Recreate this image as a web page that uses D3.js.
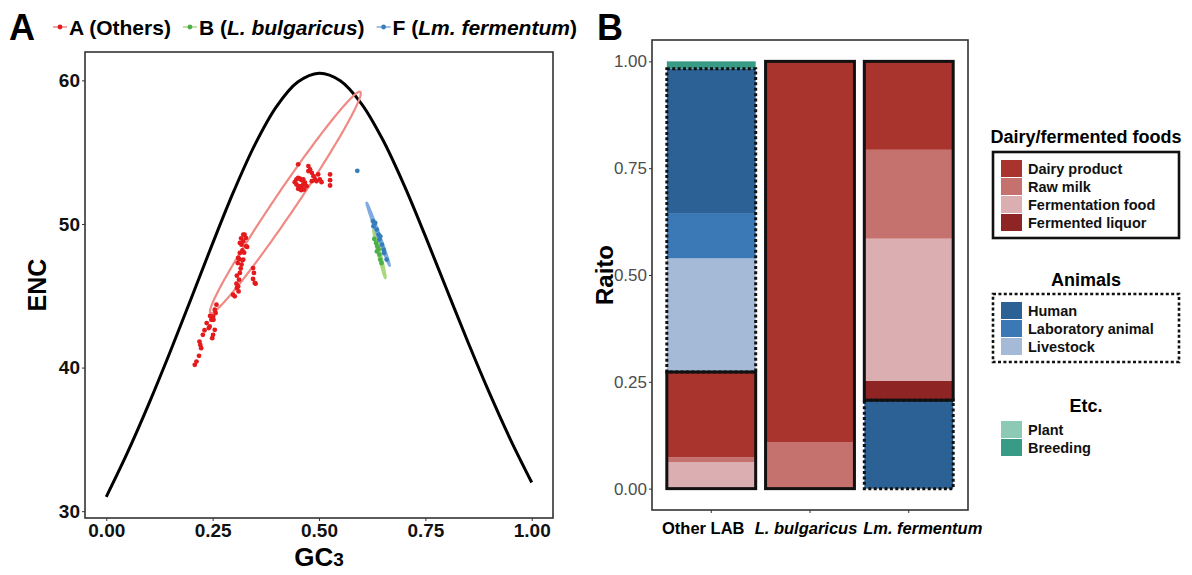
<!DOCTYPE html>
<html>
<head>
<meta charset="utf-8">
<script src="https://cdn.jsdelivr.net/npm/d3@7"></script>
<style>
    body { margin: 0; background: #fff; }
    svg { font-family: "Liberation Sans", Arial, sans-serif; }
</style>
</head>
<body>
<div id="chart"></div>
<script>

/* * * * * * * * * * * * * *
*          DATA            *
* * * * * * * * * * * * * */

// expected ENC curve (GC3, ENC)
const curveGC3 = [0, 0.05, 0.1, 0.15, 0.2, 0.25, 0.3, 0.35, 0.4, 0.45, 0.5, 0.55, 0.6, 0.65, 0.7, 0.75, 0.8, 0.85, 0.9, 0.95, 1];
const curveENC = [31.00, 34.09, 37.47, 41.08, 44.85, 48.65, 52.30, 55.56, 58.17, 59.88, 60.50, 59.98, 58.37, 55.86, 52.70, 49.15, 45.45, 41.78, 38.27, 34.99, 32.00];

// group A (Others) genes: [GC3, ENC]
const othersPoints = [
    [0.208, 40.19], [0.212, 40.42], [0.218, 40.82], [0.223, 41.35], [0.221, 41.58], [0.219, 41.81], [0.227, 42.28],
    [0.249, 42.05], [0.251, 42.28], [0.255, 42.63], [0.241, 42.75], [0.243, 42.86], [0.247, 43.33], [0.252, 43.33],
    [0.251, 43.56], [0.257, 43.80], [0.255, 44.03], [0.259, 44.38], [0.231, 42.60], [0.236, 43.10], [0.244, 43.60],
    [0.298, 45.07], [0.302, 44.96], [0.307, 45.54], [0.311, 45.30], [0.306, 45.84], [0.310, 45.65], [0.312, 46.12],
    [0.307, 46.40], [0.314, 46.59], [0.316, 46.90], [0.318, 47.17], [0.309, 47.28], [0.320, 47.47], [0.312, 47.56],
    [0.322, 47.52], [0.310, 47.63], [0.314, 47.98], [0.324, 48.00], [0.320, 48.16], [0.331, 48.40], [0.329, 48.44],
    [0.318, 48.56], [0.314, 48.68], [0.322, 48.79], [0.317, 49.00], [0.328, 49.03], [0.325, 49.26], [0.322, 49.26],
    [0.345, 46.93], [0.347, 46.59], [0.345, 46.17], [0.351, 45.84], [0.349, 45.89],
    [0.451, 54.15], [0.475, 54.03], [0.479, 53.80], [0.483, 53.56], [0.487, 53.33], [0.491, 53.10], [0.483, 52.98],
    [0.494, 52.98], [0.502, 53.10], [0.506, 52.91], [0.526, 53.45], [0.526, 53.05], [0.526, 52.68], [0.498, 53.45],
    [0.475, 53.68], [0.447, 53.10], [0.451, 53.21], [0.455, 53.15], [0.459, 53.05], [0.447, 52.75], [0.453, 52.63],
    [0.459, 52.63], [0.463, 52.75], [0.467, 52.87], [0.451, 52.45], [0.458, 52.35], [0.465, 52.40], [0.471, 52.63],
    [0.443, 52.91], [0.463, 53.10]
];

// group B (L. bulgaricus)
const bulgaricusPoints = [
    [0.630, 48.96], [0.634, 48.68], [0.637, 48.44], [0.636, 48.09], [0.642, 47.86], [0.644, 47.52], [0.647, 47.28], [0.640, 48.25]
];

// group F (Lm. fermentum)
const fermentumPoints = [
    [0.627, 50.19], [0.632, 50.07], [0.628, 49.84], [0.636, 49.61], [0.640, 49.26], [0.642, 48.91], [0.648, 48.56],
    [0.652, 48.21], [0.653, 47.98], [0.659, 47.52], [0.644, 49.14], [0.590, 53.70]
];

// ellipse major axis end points: [GC3, ENC]
const othersEllipse = [[0.245, 43.8], [0.597, 59.2]];
const bulgaricusEllipse = [[0.628, 49.6], [0.656, 46.24]];
const fermentumEllipse = [[0.612, 51.47], [0.666, 47.1]];

// panel B: isolation source ratios
const barCategories = ["Other LAB", "L. bulgaricus", "Lm. fermentum"];
const sourceNames = ["Dairy product", "Raw milk", "Fermentation food", "Fermented liquor", "Human", "Laboratory animal", "Livestock", "Plant", "Breeding"];
const sourceGroups = ["Dairy/fermented foods", "Dairy/fermented foods", "Dairy/fermented foods", "Dairy/fermented foods", "Animals", "Animals", "Animals", "Etc.", "Etc."];
const groupNames = ["Dairy/fermented foods", "Animals", "Etc."];
const otherLabValues = [0.200, 0.011, 0.062, 0.000, 0.338, 0.106, 0.266, 0.000, 0.017];
const bulgaricusValues = [0.891, 0.109, 0.000, 0.000, 0.000, 0.000, 0.000, 0.000, 0.000];
const fermentumValues = [0.207, 0.208, 0.333, 0.045, 0.207, 0.000, 0.000, 0.000, 0.000];
// stacking order of groups in each bar, bottom first
const groupOrder = [
    ["Dairy/fermented foods", "Animals", "Etc."],
    ["Dairy/fermented foods"],
    ["Animals", "Dairy/fermented foods"]
];
const yTicksB = [0, 0.25, 0.5, 0.75, 1];


/* * * * * * * * * * * * * *
*        ScatterVis        *
* * * * * * * * * * * * * */

class ScatterVis {

    constructor(svg) {
        this.svg = svg;
        this.colors = ["#e41a1c", "#4daf4a", "#377eb8"];
        this.ellipseColors = ["#ef8a85", "#a9d97a", "#80aae2"];
        this.initVis();
    }

    initVis() {
        let vis = this;

        vis.left = 85; vis.right = 553; vis.top = 52; vis.bottom = 518;

        vis.x = d3.scaleLinear().domain([-0.05, 1.05]).range([vis.left, vis.right]);
        vis.y = d3.scaleLinear().domain([29.525, 61.975]).range([vis.bottom, vis.top]);

        vis.g = vis.svg.append("g");

        // panel letter
        vis.g.append("text")
            .attr("x", 9).attr("y", 40)
            .attr("font-size", 36).attr("font-weight", "bold")
            .text("A");

        // axes
        let xAxis = d3.axisBottom(vis.x).tickValues([0, 0.25, 0.5, 0.75, 1]).tickFormat(d3.format(".2f")).tickSize(3).tickPadding(3);
        let yAxis = d3.axisLeft(vis.y).tickValues([30, 40, 50, 60]).tickSize(3).tickPadding(2);

        vis.g.append("g").attr("transform", `translate(0,${vis.bottom})`).call(xAxis)
            .call(g => g.select(".domain").remove())
            .call(g => g.selectAll(".tick line").attr("stroke", "#333"))
            .call(g => g.selectAll("text").attr("font-size", 19).attr("font-weight", "bold").attr("fill", "#111").attr("font-family", "Liberation Sans, Arial, sans-serif"));

        vis.g.append("g").attr("transform", `translate(${vis.left},0)`).call(yAxis)
            .call(g => g.select(".domain").remove())
            .call(g => g.selectAll(".tick line").attr("stroke", "#333"))
            .call(g => g.selectAll("text").attr("font-size", 19).attr("font-weight", "bold").attr("fill", "#111").attr("font-family", "Liberation Sans, Arial, sans-serif"));

        // axis titles
        vis.g.append("text")
            .attr("transform", `translate(46,${(vis.top + vis.bottom) / 2}) rotate(-90)`)
            .attr("text-anchor", "middle")
            .attr("font-size", 25).attr("font-weight", "bold")
            .text("ENC");

        let gcTitle = vis.g.append("text")
            .attr("x", (vis.left + vis.right) / 2).attr("y", 566)
            .attr("text-anchor", "middle")
            .attr("font-weight", "bold");
        gcTitle.append("tspan").attr("font-size", 26).text("GC");
        gcTitle.append("tspan").attr("font-size", 19).text("3");

        vis.plot = vis.g.append("g");

        vis.drawCurve();
        vis.drawEllipses();
        vis.drawPoints();

        // panel border
        vis.g.append("rect")
            .attr("x", vis.left).attr("y", vis.top)
            .attr("width", vis.right - vis.left).attr("height", vis.bottom - vis.top)
            .attr("fill", "none").attr("stroke", "#333").attr("stroke-width", 1.6);

        vis.drawLegend();
    }

    drawCurve() {
        let vis = this;
        let curveData = curveGC3.map((d, i) => [d, curveENC[i]]);
        vis.plot.append("path")
            .datum(curveData)
            .attr("fill", "none")
            .attr("stroke", "#000")
            .attr("stroke-width", 3)
            .attr("d", d3.line().x(d => vis.x(d[0])).y(d => vis.y(d[1])).curve(d3.curveCatmullRom));
    }

    ellipsePath(ends, ratio) {
        let vis = this;
        let x1 = vis.x(ends[0][0]), y1 = vis.y(ends[0][1]);
        let x2 = vis.x(ends[1][0]), y2 = vis.y(ends[1][1]);
        let cx = (x1 + x2) / 2, cy = (y1 + y2) / 2;
        let a = Math.hypot(x2 - x1, y2 - y1) / 2;
        let b = a * ratio;
        let ang = Math.atan2(y2 - y1, x2 - x1);
        let pts = d3.range(0, 2 * Math.PI, Math.PI / 90).map(t => [
            cx + a * Math.cos(t) * Math.cos(ang) - b * Math.sin(t) * Math.sin(ang),
            cy + a * Math.cos(t) * Math.sin(ang) + b * Math.sin(t) * Math.cos(ang)
        ]);
        return d3.line().curve(d3.curveLinearClosed)(pts);
    }

    drawEllipses() {
        let vis = this;
        let ellipses = [
            {ends: othersEllipse, ratio: 0.08, color: vis.ellipseColors[0], width: 2.2},
            {ends: bulgaricusEllipse, ratio: 0.05, color: vis.ellipseColors[1], width: 2.5},
            {ends: fermentumEllipse, ratio: 0.036, color: vis.ellipseColors[2], width: 2.5}
        ];
        vis.plot.selectAll(".ellipse").data(ellipses).enter().append("path")
            .attr("class", "ellipse")
            .attr("fill", d => d.ratio < 0.06 ? d.color : "none")
            .attr("stroke", d => d.color)
            .attr("stroke-width", d => d.width)
            .attr("d", d => vis.ellipsePath(d.ends, d.ratio));
    }

    drawPoints() {
        let vis = this;
        let groups = [othersPoints, bulgaricusPoints, fermentumPoints];
        groups.forEach((pts, i) => {
            vis.plot.append("g").selectAll("circle").data(pts).enter().append("circle")
                .attr("cx", d => vis.x(d[0]))
                .attr("cy", d => vis.y(d[1]))
                .attr("r", 2.4)
                .attr("fill", vis.colors[i]);
        });
    }

    drawLegend() {
        let vis = this;
        let labels = [
            [["A (Others)", false]],
            [["B (", false], ["L. bulgaricus", true], [")", false]],
            [["F (", false], ["Lm. fermentum", true], [")", false]]
        ];
        let legend = vis.g.append("g");
        let xPos = 53;
        labels.forEach((parts, i) => {
            let key = legend.append("g").attr("transform", `translate(${xPos},27)`);
            key.append("line").attr("x1", 0).attr("x2", 14).attr("stroke", vis.ellipseColors[i]).attr("stroke-width", 1.5);
            key.append("circle").attr("cx", 7).attr("r", 2.4).attr("fill", vis.colors[i]);

            let text = legend.append("text")
                .attr("x", xPos + 16).attr("y", 35)
                .attr("font-size", 21).attr("font-weight", "bold");
            parts.forEach(p => text.append("tspan").attr("font-style", p[1] ? "italic" : "normal").text(p[0]));
            xPos += 16 + text.node().getComputedTextLength() + 12;
        });
    }
}


/* * * * * * * * * * * * * *
*          BarVis          *
* * * * * * * * * * * * * */

class BarVis {

    constructor(svg) {
        this.svg = svg;
        this.colors = ["#a9342d", "#c5716e", "#dbaeb1", "#8f2424", "#2b6195", "#3a79b6", "#a4bad7", "#8dcab6", "#389b85"];
        this.groupDash = {"Dairy/fermented foods": null, "Animals": "3,2.4", "Etc.": "none"};
        this.initVis();
    }

    initVis() {
        let vis = this;

        vis.left = 652; vis.right = 968; vis.top = 40; vis.bottom = 510;

        vis.x = d3.scaleBand().domain(barCategories).range([vis.left, vis.right]).paddingInner(0.1).paddingOuter(0.15);
        vis.y = d3.scaleLinear().domain([-0.05, 1.05]).range([vis.bottom, vis.top]);

        vis.g = vis.svg.append("g");

        vis.g.append("text")
            .attr("x", 597).attr("y", 40)
            .attr("font-size", 36).attr("font-weight", "bold")
            .text("B");

        // y axis
        vis.g.append("g").attr("transform", `translate(${vis.left},0)`)
            .call(d3.axisLeft(vis.y).tickValues(yTicksB).tickFormat(d3.format(".2f")).tickSize(3).tickPadding(2))
            .call(g => g.select(".domain").remove())
            .call(g => g.selectAll(".tick line").attr("stroke", "#333"))
            .call(g => g.selectAll("text").attr("font-size", 17).attr("fill", "#4d4d4d").attr("font-family", "Liberation Sans, Arial, sans-serif"));

        // x axis ticks
        vis.g.append("g").attr("transform", `translate(0,${vis.bottom})`)
            .call(d3.axisBottom(vis.x).tickSize(3).tickFormat(""))
            .call(g => g.select(".domain").remove())
            .call(g => g.selectAll(".tick line").attr("stroke", "#333"));

        // x labels (nudged as in the figure)
        let nudge = [-8, -4, 14];
        let italic = [false, true, true];
        vis.g.selectAll(".xlab").data(barCategories).enter().append("text")
            .attr("class", "xlab")
            .attr("x", (d, i) => vis.x(d) + vis.x.bandwidth() / 2 + nudge[i])
            .attr("y", 534)
            .attr("text-anchor", "middle")
            .attr("font-size", 16.5).attr("font-weight", "bold")
            .attr("font-style", (d, i) => italic[i] ? "italic" : "normal")
            .text(d => d);

        vis.g.append("text")
            .attr("transform", `translate(613,${(vis.top + vis.bottom) / 2}) rotate(-90)`)
            .attr("text-anchor", "middle")
            .attr("font-size", 24).attr("font-weight", "bold")
            .text("Raito");

        vis.wrangleData();
    }

    wrangleData() {
        let vis = this;
        let valuesByBar = [otherLabValues, bulgaricusValues, fermentumValues];

        vis.segments = [];
        vis.groupBoxes = [];

        barCategories.forEach((cat, b) => {
            let y0 = 0;
            groupOrder[b].forEach(group => {
                let start = y0;
                // within a group, the last listed source sits at the bottom
                let idx = sourceNames.map((s, i) => i).filter(i => sourceGroups[i] === group).reverse();
                idx.forEach(i => {
                    let v = valuesByBar[b][i];
                    if (v > 0) {
                        vis.segments.push({cat: cat, source: sourceNames[i], color: vis.colors[i], y0: y0, y1: y0 + v});
                        y0 += v;
                    }
                });
                vis.groupBoxes.push({cat: cat, group: group, y0: start, y1: y0});
            });
        });

        vis.updateVis();
    }

    updateVis() {
        let vis = this;

        vis.g.selectAll(".seg").data(vis.segments).enter().append("rect")
            .attr("class", "seg")
            .attr("x", d => vis.x(d.cat))
            .attr("width", vis.x.bandwidth())
            .attr("y", d => vis.y(d.y1))
            .attr("height", d => vis.y(d.y0) - vis.y(d.y1))
            .attr("fill", d => d.color);

        vis.g.selectAll(".gbox").data(vis.groupBoxes.filter(d => d.group !== "Etc.")).enter().append("rect")
            .attr("class", "gbox")
            .attr("x", d => vis.x(d.cat))
            .attr("width", vis.x.bandwidth())
            .attr("y", d => vis.y(d.y1))
            .attr("height", d => vis.y(d.y0) - vis.y(d.y1))
            .attr("fill", "none")
            .attr("stroke", "#111")
            .attr("stroke-width", 3)
            .attr("stroke-dasharray", d => vis.groupDash[d.group]);

        // panel border
        vis.g.append("rect")
            .attr("x", vis.left).attr("y", vis.top)
            .attr("width", vis.right - vis.left).attr("height", vis.bottom - vis.top)
            .attr("fill", "none").attr("stroke", "#333").attr("stroke-width", 1.6);

        vis.drawLegend();
    }

    drawLegend() {
        let vis = this;
        let legendX = 993, keyW = 21, keyH = 17, rowH = 18;
        let layout = [
            {group: "Dairy/fermented foods", titleY: 143, boxTop: 152},
            {group: "Animals", titleY: 286, boxTop: 294},
            {group: "Etc.", titleY: 412, boxTop: 413}
        ];

        layout.forEach(l => {
            let idx = sourceNames.map((s, i) => i).filter(i => sourceGroups[i] === l.group);
            let g = vis.g.append("g");

            g.append("text")
                .attr("x", 1086).attr("y", l.titleY)
                .attr("text-anchor", "middle")
                .attr("font-size", 18).attr("font-weight", "bold")
                .text(l.group);

            let boxH = idx.length * rowH + 14;
            if (l.group !== "Etc.") {
                g.append("rect")
                    .attr("x", legendX).attr("y", l.boxTop)
                    .attr("width", 186).attr("height", boxH)
                    .attr("fill", "none").attr("stroke", "#111").attr("stroke-width", 2.6)
                    .attr("stroke-dasharray", vis.groupDash[l.group]);
            }

            idx.forEach((i, r) => {
                let yy = l.boxTop + 8 + r * rowH;
                g.append("rect")
                    .attr("x", legendX + 8).attr("y", yy)
                    .attr("width", keyW).attr("height", keyH)
                    .attr("fill", vis.colors[i]);
                g.append("text")
                    .attr("x", legendX + 35).attr("y", yy + 13.5)
                    .attr("font-size", 14.5).attr("font-weight", "bold")
                    .attr("fill", "#111")
                    .text(sourceNames[i]);
            });
        });
    }
}


// init
let svg = d3.select("#chart").append("svg")
    .attr("width", 1192)
    .attr("height", 575);

let scatterVis = new ScatterVis(svg);
let barVis = new BarVis(svg);

</script>
</body>
</html>
